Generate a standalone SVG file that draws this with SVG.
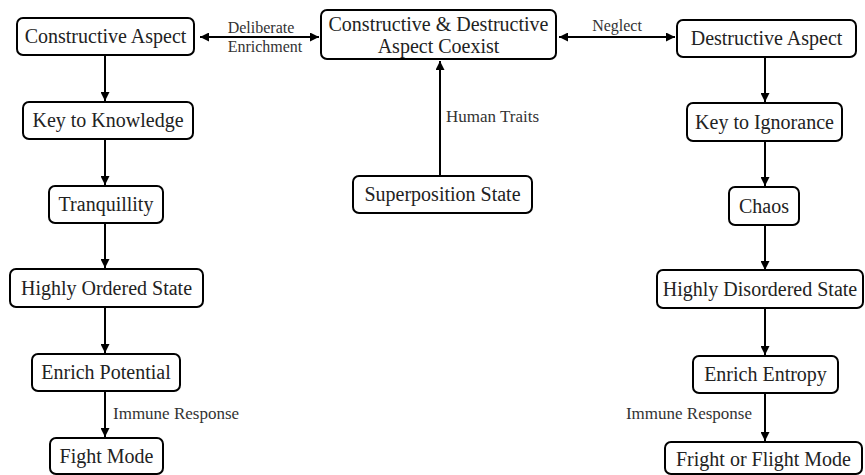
<svg xmlns="http://www.w3.org/2000/svg" width="865" height="475" viewBox="0 0 865 475">
  <defs>
    <style>
      .box { fill: #ffffff; stroke: #000000; stroke-width: 2; }
      .nt { font-family: 'Liberation Serif', 'DejaVu Serif', 'Noto Serif', serif; font-size: 20px; fill: #222222; text-anchor: middle; }
      .lb { font-family: 'Liberation Serif', 'DejaVu Serif', 'Noto Serif', serif; font-size: 17px; fill: #333333; }
      .lbs { font-family: 'Liberation Serif', 'DejaVu Serif', 'Noto Serif', serif; font-size: 16px; fill: #333333; text-anchor: middle; }
      .ln { stroke: #000000; stroke-width: 2; fill: none; }
    </style>
    <marker id="ah" viewBox="0 0 10 10" refX="10" refY="5" markerWidth="4.5" markerHeight="4.5" orient="auto-start-reverse" markerUnits="strokeWidth">
      <path d="M0,0 L10,5 L0,10 z" fill="#000000"/>
    </marker>
  </defs>
  <rect width="865" height="475" fill="#ffffff"/>

  <g id="connectors">
    <line class="ln" x1="200" y1="37" x2="319" y2="37" marker-start="url(#ah)" marker-end="url(#ah)"/>
    <line class="ln" x1="559" y1="37" x2="675" y2="37" marker-start="url(#ah)" marker-end="url(#ah)"/>
    <line class="ln" x1="440" y1="176" x2="440" y2="61" marker-end="url(#ah)"/>
    <line class="ln" x1="105" y1="55" x2="105" y2="101" marker-end="url(#ah)"/>
    <line class="ln" x1="105" y1="139" x2="105" y2="185" marker-end="url(#ah)"/>
    <line class="ln" x1="105" y1="223" x2="105" y2="268" marker-end="url(#ah)"/>
    <line class="ln" x1="105" y1="307" x2="105" y2="353" marker-end="url(#ah)"/>
    <line class="ln" x1="105" y1="391" x2="105" y2="437" marker-end="url(#ah)"/>
    <line class="ln" x1="765" y1="57" x2="765" y2="102" marker-end="url(#ah)"/>
    <line class="ln" x1="765" y1="141" x2="765" y2="186" marker-end="url(#ah)"/>
    <line class="ln" x1="765" y1="225" x2="765" y2="270" marker-end="url(#ah)"/>
    <line class="ln" x1="765" y1="308" x2="765" y2="355" marker-end="url(#ah)"/>
    <line class="ln" x1="765" y1="393" x2="765" y2="441" marker-end="url(#ah)"/>
    <text class="lbs" x="261" y="33">Deliberate</text>
    <text class="lbs" x="265" y="52">Enrichment</text>
    <text class="lbs" x="617" y="31">Neglect</text>
    <text class="lb" x="446" y="122">Human Traits</text>
    <text class="lb" x="113" y="419">Immune Response</text>
    <text class="lb" x="752" y="419" text-anchor="end">Immune Response</text>
  </g>

  <g id="n-coexist">
    <rect class="box" x="321" y="10" width="235" height="49" rx="6"/>
    <text class="nt" x="438.5" y="31">Constructive &amp; Destructive</text>
    <text class="nt" x="438.5" y="53">Aspect Coexist</text>
  </g>
  <g id="n-superposition">
    <rect class="box" x="353" y="176" width="179" height="37" rx="6"/>
    <text class="nt" x="442.5" y="201">Superposition State</text>
  </g>

  <g id="n-constructive">
    <rect class="box" x="17" y="18" width="177" height="37" rx="6"/>
    <text class="nt" x="105.5" y="43">Constructive Aspect</text>
  </g>
  <g id="n-knowledge">
    <rect class="box" x="23" y="102" width="170" height="37" rx="6"/>
    <text class="nt" x="108" y="127">Key to Knowledge</text>
  </g>
  <g id="n-tranquillity">
    <rect class="box" x="49" y="186" width="114" height="37" rx="6"/>
    <text class="nt" x="106" y="211">Tranquillity</text>
  </g>
  <g id="n-ordered">
    <rect class="box" x="10" y="269" width="193" height="38" rx="6"/>
    <text class="nt" x="106.5" y="295">Highly Ordered State</text>
  </g>
  <g id="n-potential">
    <rect class="box" x="32" y="354" width="148" height="37" rx="6"/>
    <text class="nt" x="106" y="379">Enrich Potential</text>
  </g>
  <g id="n-fight">
    <rect class="box" x="50" y="438" width="113" height="36" rx="6"/>
    <text class="nt" x="106.5" y="463">Fight Mode</text>
  </g>

  <g id="n-destructive">
    <rect class="box" x="677" y="20" width="179" height="37" rx="6"/>
    <text class="nt" x="766.5" y="45">Destructive Aspect</text>
  </g>
  <g id="n-ignorance">
    <rect class="box" x="687" y="103" width="155" height="38" rx="6"/>
    <text class="nt" x="764.5" y="129">Key to Ignorance</text>
  </g>
  <g id="n-chaos">
    <rect class="box" x="729" y="187" width="70" height="38" rx="6"/>
    <text class="nt" x="764" y="213">Chaos</text>
  </g>
  <g id="n-disordered">
    <rect class="box" x="657" y="270" width="206" height="38" rx="6"/>
    <text class="nt" x="760" y="296">Highly Disordered State</text>
  </g>
  <g id="n-entropy">
    <rect class="box" x="693" y="356" width="145" height="37" rx="6"/>
    <text class="nt" x="765.5" y="381">Enrich Entropy</text>
  </g>
  <g id="n-fright">
    <rect class="box" x="665" y="442" width="197" height="32" rx="6"/>
    <text class="nt" x="763.5" y="466">Fright or Flight Mode</text>
  </g>
</svg>
